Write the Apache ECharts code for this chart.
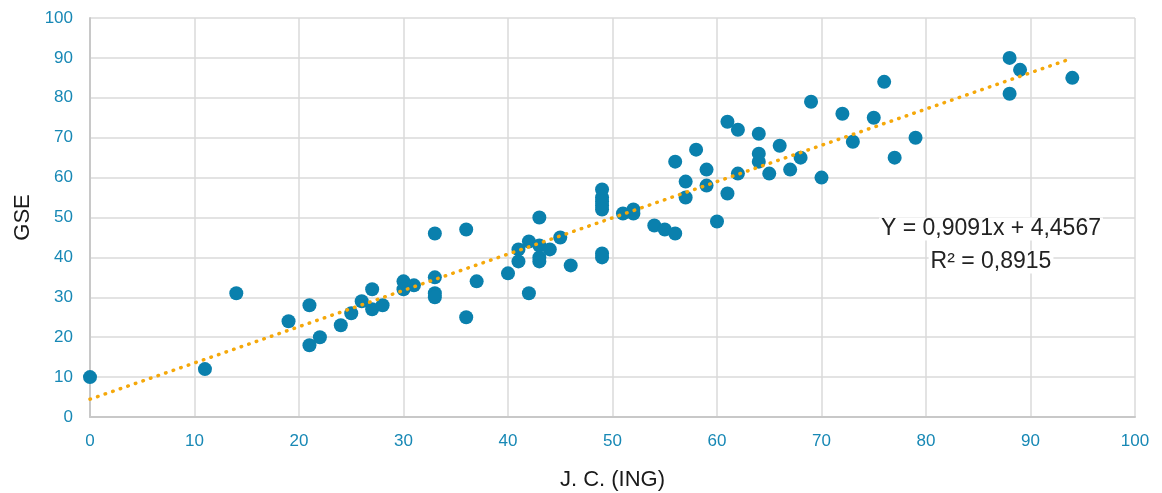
<!DOCTYPE html>
<html>
<head>
<meta charset="utf-8">
<script src="https://cdn.jsdelivr.net/npm/echarts@6/dist/echarts.min.js"></script>
<style>html,body{margin:0;padding:0;background:#fff;}#c{width:1162px;height:493px;}</style>
</head>
<body>
<div id="c"></div>
<script>
const xValues = [0,11,14,19,21,21,22,24,25,26,27,27,28,30,30,31,33,33,33,33,36,36,37,40,41,41,42,42,43,43,43,43,44,45,46,49,49,49,49,49,49,49,51,52,52,54,55,56,56,57,57,58,59,59,60,61,61,62,62,64,64,64,65,66,67,68,69,70,72,73,75,76,77,79,88,88,89,94];
const yValues = [10,12,31,24,28,18,20,23,26,29,32,27,28,34,32,33,46,35,31,30,47,25,34,36,42,39,44,31,50,43,40,39,42,45,38,57,55,54,53,52,41,40,51,52,51,48,47,46,64,59,55,67,62,58,49,74,56,72,61,71,66,64,61,68,62,65,79,60,76,69,75,84,65,70,90,81,87,85];
const xTicks = [0,10,20,30,40,50,60,70,80,90,100];
const yTicks = [0,10,20,30,40,50,60,70,80,90,100];
const slope = 0.9091, intercept = 4.4567;
const trendRange = [0, 94];
const eqLines = ['Y = 0,9091x + 4,4567', 'R² = 0,8915'];

const points = xValues.map((x, i) => [x, yValues[i]]);
const trend = trendRange.map(x => [x, slope * x + intercept]);

const chart = echarts.init(document.getElementById('c'));
const font = '"Liberation Sans", Arial, sans-serif';
chart.setOption({
  animation: false,
  grid: {left: 90, right: 27, top: 18, bottom: 76, containLabel: false, outerBoundsMode: 'none'},
  xAxis: {
    type: 'value', min: xTicks[0], max: xTicks[xTicks.length-1], interval: 10,
    name: 'J. C. (ING)', nameLocation: 'middle', nameGap: 52,
    nameTextStyle: {color: '#1a1a1a', fontSize: 22, fontFamily: font},
    axisLine: {show: true, lineStyle: {color: '#c8c8c8', width: 2}},
    axisTick: {show: false},
    axisLabel: {color: '#1788b5', fontSize: 17, fontFamily: font, margin: 16},
    splitLine: {show: true, lineStyle: {color: '#dadada', width: 1.5}}
  },
  yAxis: {
    type: 'value', min: yTicks[0], max: yTicks[yTicks.length-1], interval: 10,
    name: 'GSE', nameLocation: 'middle', nameGap: 56, nameRotate: 90,
    nameTextStyle: {color: '#1a1a1a', fontSize: 22, fontFamily: font},
    axisLine: {show: true, lineStyle: {color: '#c8c8c8', width: 2}},
    axisTick: {show: false},
    axisLabel: {color: '#1788b5', fontSize: 17, fontFamily: font, margin: 17},
    splitLine: {show: true, lineStyle: {color: '#dadada', width: 1.5}}
  },
  series: [
    {
      type: 'scatter', data: points, symbolSize: 14, z: 2,
      itemStyle: {color: '#0a80ad', opacity: 1}
    },
    {
      type: 'line', data: trend, symbol: 'none', z: 3,
      lineStyle: {color: '#f5a80a', width: 3.5, type: [0.5, 7.5], cap: 'round'}
    }
  ],
  graphic: [
    {type: 'text', x: 991, y: 229, z: 10, style: {text: eqLines[0], fill: '#222', font: '23px ' + font, textAlign: 'center', textVerticalAlign: 'middle', backgroundColor: '#fff', padding: [0, 2]}},
    {type: 'text', x: 991, y: 262, z: 10, style: {text: eqLines[1], fill: '#222', font: '23px ' + font, textAlign: 'center', textVerticalAlign: 'middle', backgroundColor: '#fff', padding: [0, 2]}}
  ]
});
</script>
</body>
</html>
